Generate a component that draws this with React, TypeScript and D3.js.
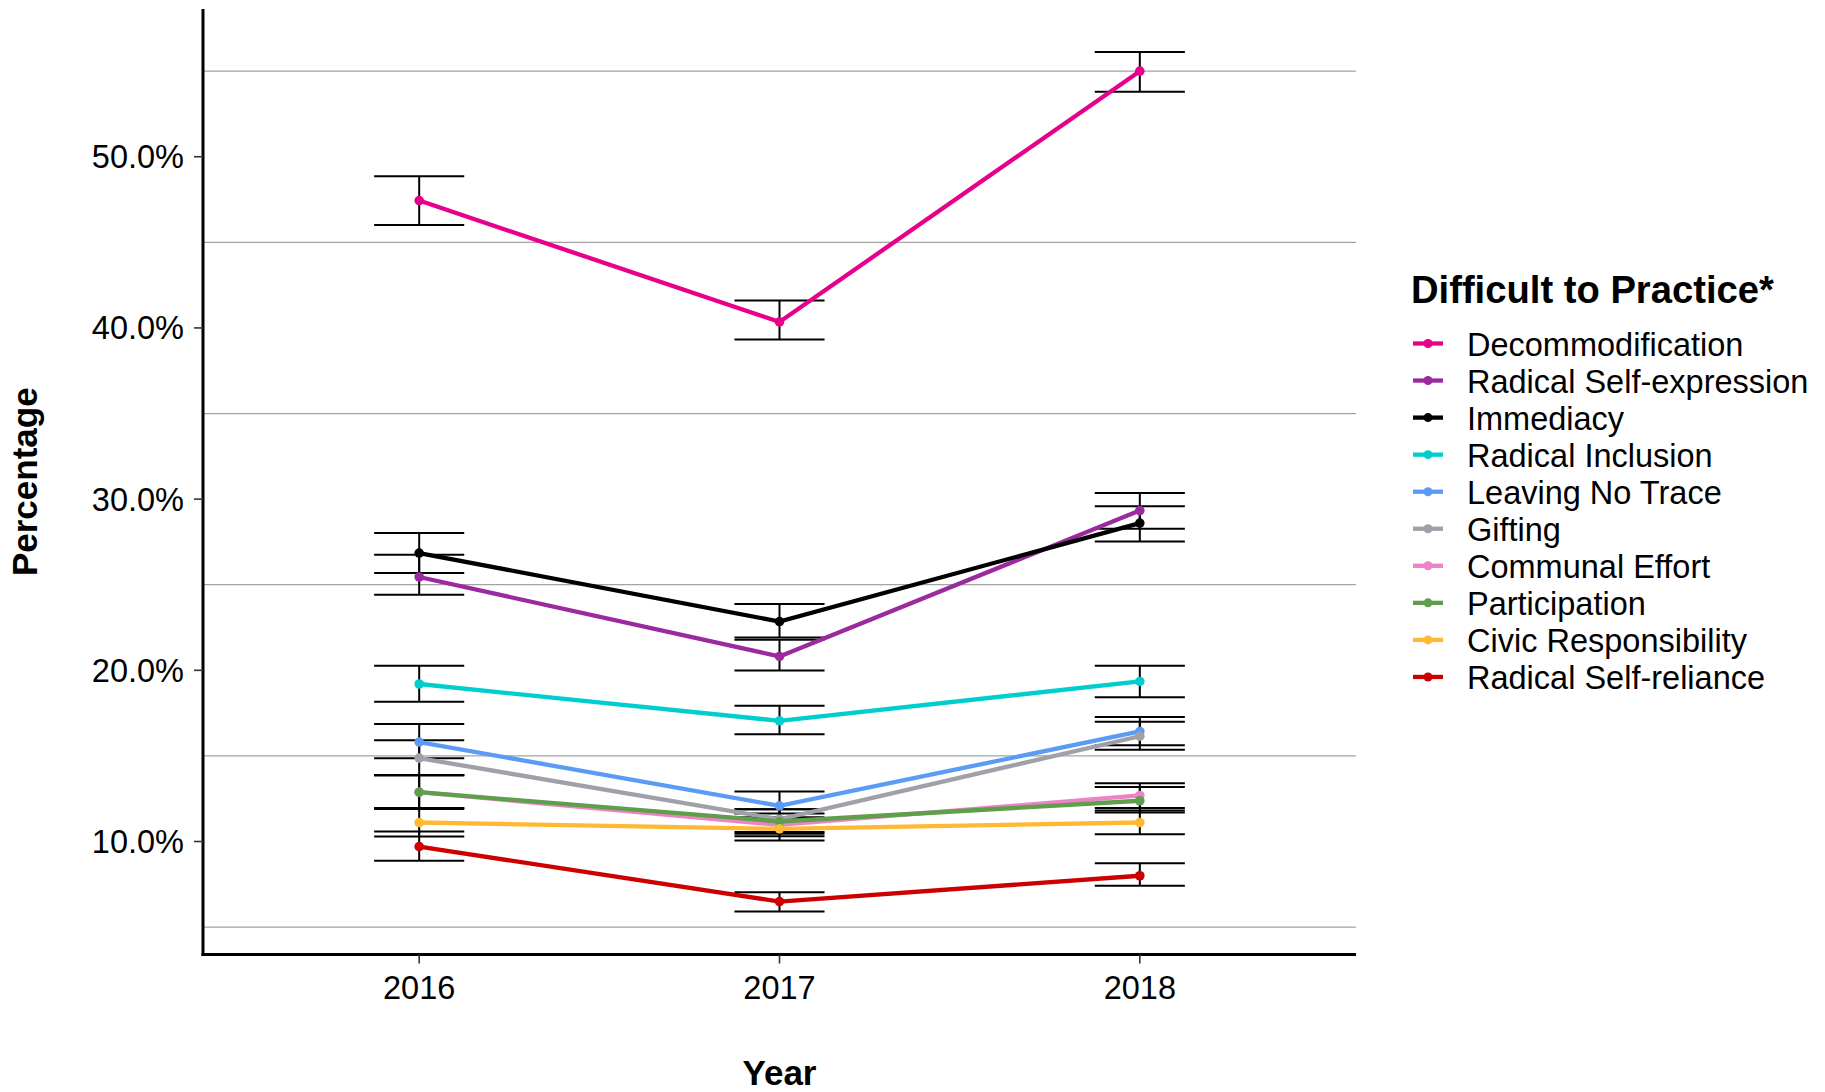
import React from "react";
import * as d3 from "d3";

const years = ["2016", "2017", "2018"];
const seriesNames = [
  "Decommodification",
  "Radical Self-expression",
  "Immediacy",
  "Radical Inclusion",
  "Leaving No Trace",
  "Gifting",
  "Communal Effort",
  "Participation",
  "Civic Responsibility",
  "Radical Self-reliance",
];
const seriesColors = [
  "#E6008A",
  "#9A2A9E",
  "#000000",
  "#00CDCD",
  "#5C9BF5",
  "#A0A0A8",
  "#EE82C6",
  "#5F9E4A",
  "#FFB833",
  "#CC0000",
];
// percentages per year (2016, 2017, 2018)
const decommodification = [47.44, 40.35, 55.0];
const radicalSelfExpression = [25.45, 20.81, 29.33];
const immediacy = [26.85, 22.85, 28.6];
const radicalInclusion = [19.2, 17.05, 19.35];
const leavingNoTrace = [15.81, 12.08, 16.43];
const gifting = [14.87, 11.3, 16.15];
const communalEffort = [12.88, 10.97, 12.69];
const participation = [12.88, 11.17, 12.38];
const civicResponsibility = [11.11, 10.74, 11.11];
const radicalSelfReliance = [9.7, 6.49, 8.0];

const decommodificationLow = [46.02, 39.32, 53.8];
const radicalSelfExpressionLow = [24.42, 19.99, 28.27];
const immediacyLow = [25.68, 21.92, 27.53];
const radicalInclusionLow = [18.16, 16.27, 18.43];
const leavingNoTraceLow = [14.87, 11.3, 15.63];
const giftingLow = [13.88, 10.55, 15.36];
const communalEffortLow = [11.9, 10.3, 11.95];
const participationLow = [11.95, 10.45, 11.7];
const civicResponsibilityLow = [10.29, 10.06, 10.43];
const radicalSelfRelianceLow = [8.88, 5.91, 7.41];

const decommodificationHigh = [48.86, 41.6, 56.12];
const radicalSelfExpressionHigh = [26.75, 21.79, 30.36];
const immediacyHigh = [28.02, 23.87, 29.58];
const radicalInclusionHigh = [20.27, 17.93, 20.27];
const leavingNoTraceHigh = [16.86, 12.92, 17.27];
const giftingHigh = [15.92, 11.89, 17.0];
const communalEffortHigh = [13.88, 11.64, 13.41];
const participationHigh = [13.85, 11.89, 13.18];
const civicResponsibilityHigh = [11.95, 11.42, 11.81];
const radicalSelfRelianceHigh = [10.58, 7.04, 8.73];

const yTicks = [10, 20, 30, 40, 50];
const yGrid = [5, 15, 25, 35, 45, 55];

const values = [
  decommodification, radicalSelfExpression, immediacy, radicalInclusion, leavingNoTrace,
  gifting, communalEffort, participation, civicResponsibility, radicalSelfReliance,
];
const lows = [
  decommodificationLow, radicalSelfExpressionLow, immediacyLow, radicalInclusionLow, leavingNoTraceLow,
  giftingLow, communalEffortLow, participationLow, civicResponsibilityLow, radicalSelfRelianceLow,
];
const highs = [
  decommodificationHigh, radicalSelfExpressionHigh, immediacyHigh, radicalInclusionHigh, leavingNoTraceHigh,
  giftingHigh, communalEffortHigh, participationHigh, civicResponsibilityHigh, radicalSelfRelianceHigh,
];

const W = 1825;
const H = 1092;
const left = 203;
const right = 1356;
const top = 9;
const bottom = 954.5;
const FONT = "'Liberation Sans', Arial, Helvetica, sans-serif";

export default function App() {
  const dMin = d3.min(lows.flat()) as number;
  const dMax = d3.max(highs.flat()) as number;
  const pad = (dMax - dMin) * 0.05;
  const y = d3.scaleLinear().domain([dMin - pad, dMax + pad]).range([bottom, top]);
  const x = d3.scalePoint<string>().domain(years).range([left, right]).padding(0.6);
  const halfW = (x.step() * 0.25) / 2;
  const fmt = (v: number) => v.toFixed(1) + "%";

  const line = d3
    .line<number>()
    .x((_, i) => x(years[i]) as number)
    .y((d) => y(d));

  const legendX = 1413;
  const legendY0 = 343.5;
  const legendStep = 37.05;

  return (
    <svg
      width={W}
      height={H}
      style={{ position: "absolute", left: 0, top: 0, background: "#fff" }}
      fontFamily={FONT}
    >
      <rect x={0} y={0} width={W} height={H} fill="#fff" />
      {/* grid */}
      {yGrid.map((g) => (
        <line key={g} x1={left} x2={right} y1={y(g)} y2={y(g)} stroke="#a3a3a3" strokeWidth={1.2} />
      ))}
      {/* error bars */}
      {seriesNames.map((s, si) =>
        years.map((yr, i) => {
          const cx = x(yr) as number;
          return (
            <g key={s + yr} stroke="#000" strokeWidth={2}>
              <line x1={cx} x2={cx} y1={y(lows[si][i])} y2={y(highs[si][i])} />
              <line x1={cx - halfW} x2={cx + halfW} y1={y(lows[si][i])} y2={y(lows[si][i])} />
              <line x1={cx - halfW} x2={cx + halfW} y1={y(highs[si][i])} y2={y(highs[si][i])} />
            </g>
          );
        })
      )}
      {/* lines */}
      {seriesNames.map((s, si) => (
        <path key={s} d={line(values[si]) as string} fill="none" stroke={seriesColors[si]} strokeWidth={4.3} />
      ))}
      {/* points */}
      {seriesNames.map((s, si) =>
        values[si].map((v, i) => (
          <circle key={s + i} cx={x(years[i]) as number} cy={y(v)} r={4.8} fill={seriesColors[si]} />
        ))
      )}
      {/* axes */}
      <line x1={left} x2={left} y1={top} y2={bottom + 1.5} stroke="#000" strokeWidth={3} />
      <line x1={left - 1.5} x2={right} y1={bottom} y2={bottom} stroke="#000" strokeWidth={3} />
      {yTicks.map((t) => (
        <g key={t}>
          <line x1={left - 9} x2={left} y1={y(t)} y2={y(t)} stroke="#333" strokeWidth={1.6} />
          <text x={184} y={y(t) + 11.5} fontSize={32.5} textAnchor="end" fill="#000">
            {fmt(t)}
          </text>
        </g>
      ))}
      {years.map((yr) => (
        <g key={yr}>
          <line x1={x(yr) as number} x2={x(yr) as number} y1={bottom} y2={bottom + 9} stroke="#333" strokeWidth={1.6} />
          <text x={x(yr) as number} y={998.5} fontSize={32.5} textAnchor="middle" fill="#000">
            {yr}
          </text>
        </g>
      ))}
      <text x={(left + right) / 2} y={1085} fontSize={35} fontWeight="bold" textAnchor="middle">
        Year
      </text>
      <text
        transform={`translate(37, ${(top + bottom) / 2}) rotate(-90)`}
        fontSize={35}
        fontWeight="bold"
        textAnchor="middle"
      >
        Percentage
      </text>
      {/* legend */}
      <text x={1411} y={303} fontSize={38.2} fontWeight="bold">
        Difficult to Practice*
      </text>
      {seriesNames.map((s, si) => {
        const cy = legendY0 + si * legendStep;
        return (
          <g key={s}>
            <line x1={legendX} x2={legendX + 30} y1={cy} y2={cy} stroke={seriesColors[si]} strokeWidth={4.3} />
            <circle cx={legendX + 15} cy={cy} r={4.5} fill={seriesColors[si]} />
            <text x={1467} y={cy + 12.5} fontSize={32.5}>
              {s}
            </text>
          </g>
        );
      })}
    </svg>
  );
}
